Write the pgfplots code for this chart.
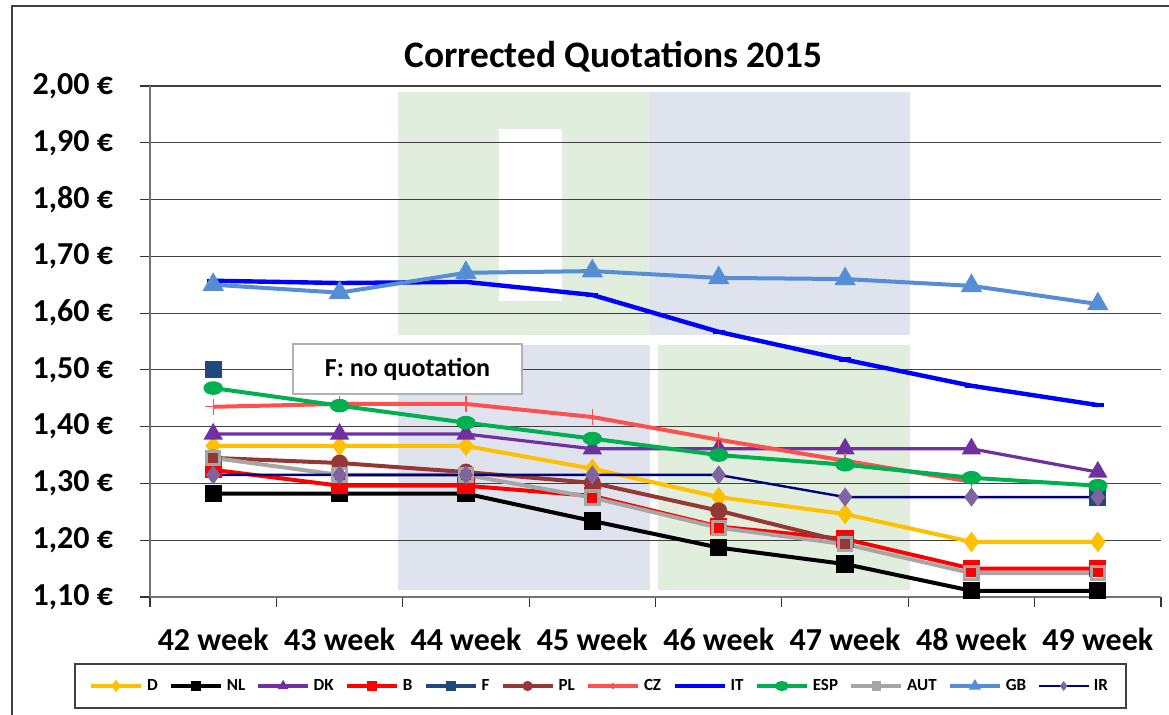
\documentclass[border=0pt]{standalone}
\usepackage{pgfplots}
\pgfplotsset{compat=1.18}
\usepackage{fontspec}
\setmainfont{Carlito}
\definecolor{cD}{HTML}{FFC000}
\definecolor{cNL}{HTML}{000000}
\definecolor{cDK}{HTML}{7030A0}
\definecolor{cB}{HTML}{FF0000}
\definecolor{cF}{HTML}{1F497D}
\definecolor{cPL}{HTML}{953735}
\definecolor{cCZ}{HTML}{FF5050}
\definecolor{cIT}{HTML}{0000FF}
\definecolor{cESP}{HTML}{00B050}
\definecolor{cAUT}{HTML}{A6A6A6}
\definecolor{cGB}{HTML}{558ED5}
\definecolor{cIR}{HTML}{000080}
\definecolor{cIRm}{HTML}{8064A2}
\definecolor{wmG}{HTML}{E2EEDD}
\definecolor{wmB}{HTML}{DEE3EE}
\begin{document}
\begin{tikzpicture}[x=0.5bp,y=0.5bp]
\useasboundingbox (0,0) rectangle (1169,714);
\fill[white] (0,0) rectangle (1169,714);
\draw[line width=0.8bp, black!75] (12,-20) rectangle (1190,708);
% watermark
\fill[wmG] (398,622) rectangle (650,379);
\fill[wmB] (650,622) rectangle (910,379);
\fill[wmB] (398,369) rectangle (650,124);
\fill[wmG] (658,369) rectangle (910,124);
\fill[white] (499,585) rectangle (562,413);
\node[font=\bfseries\fontsize{18.7bp}{22bp}\selectfont] at (613.5,657) {Corrected Quotations 2015};
\begin{axis}[
  at={(75bp,58.5bp)}, anchor=south west,
  width=505.5bp, height=255.5bp, scale only axis,
  xmin=-0.5, xmax=7.5, ymin=1.1, ymax=2.0,
  axis lines*=left,
  axis line style={black!55, line width=1bp},
  ytick={1.1,1.2,1.3,1.4,1.5,1.6,1.7,1.8,1.9,2.0},
  yticklabels={{1,10 €},{1,20 €},{1,30 €},{1,40 €},{1,50 €},{1,60 €},{1,70 €},{1,80 €},{1,90 €},{2,00 €}},
  ymajorgrids,
  grid style={black!75, line width=0.6bp},
  tick align=outside,
  major tick length=5bp,
  tick style={black!80, line width=0.6bp},
  xtick={-0.5,0.5,1.5,2.5,3.5,4.5,5.5,6.5,7.5},
  xticklabels={},
  extra x ticks={0,1,2,3,4,5,6,7},
  extra x tick labels={42 week,43 week,44 week,45 week,46 week,47 week,48 week,49 week},
  extra x tick style={major tick length=0pt, grid=none,
     xticklabel style={yshift=-12bp}},
  ticklabel style={font=\bfseries\fontsize{16bp}{18bp}\selectfont},
  yticklabel style={xshift=-10bp},
  unbounded coords=jump,
  every axis plot/.append style={line width=2bp, mark options={solid}},
  legend columns=12,
  legend style={at={(0.4456,-0.1742)}, anchor=center, draw=black!75, line width=0.6bp,
     font=\bfseries\fontsize{8.5bp}{9bp}\selectfont, inner xsep=7bp, inner ysep=5.5bp,
     cells={inner xsep=1bp},
     /tikz/every odd column/.append style={column sep=0bp},
     /tikz/every even column/.append style={column sep=3.6bp}},
  legend image code/.code={\draw[mark repeat=2,mark phase=2,#1,mark size=1.5bp] plot coordinates {(0bp,0bp)(12.5bp,0bp)(25bp,0bp)};},
]
\addplot[cD, mark=diamond*, mark size=3.5bp] coordinates {(0,1.366)(1,1.366)(2,1.366)(3,1.326)(4,1.276)(5,1.246)(6,1.197)(7,1.197)};
\addlegendentry{D}
\addplot[cNL, mark=square*, mark size=3.3bp] coordinates {(0,1.282)(1,1.282)(2,1.282)(3,1.234)(4,1.187)(5,1.158)(6,1.111)(7,1.111)};
\addlegendentry{NL}
\addplot[cDK, line width=1.6bp, mark=triangle*, mark size=4bp] coordinates {(0,1.387)(1,1.387)(2,1.387)(3,1.361)(4,1.361)(5,1.361)(6,1.361)(7,1.320)};
\addlegendentry{DK}
\addplot[cB, mark=square*, mark size=3.3bp] coordinates {(0,1.324)(1,1.296)(2,1.296)(3,1.278)(4,1.224)(5,1.202)(6,1.150)(7,1.150)};
\addlegendentry{B}
\addplot[cF, mark=square*, mark size=3.3bp] coordinates {(0,1.500)(1,nan)(2,nan)(3,nan)(4,nan)(5,nan)(6,nan)(7,1.276)};
\addlegendentry{F}
\addplot[cPL, mark=*, mark size=3.2bp] coordinates {(0,1.345)(1,1.336)(2,1.320)(3,1.301)(4,1.252)(5,1.197)};
\addlegendentry{PL}
\addplot[cCZ, mark=+, mark size=4bp, mark options={line width=0.6bp}] coordinates {(0,1.435)(1,1.440)(2,1.440)(3,1.417)(4,1.377)(5,1.340)(6,1.303)};
\addlegendentry{CZ}
\addplot[cIT, line width=2.2bp, mark=-, mark size=3bp] coordinates {(0,1.657)(1,1.653)(2,1.655)(3,1.632)(4,1.567)(5,1.518)(6,1.472)(7,1.438)};
\addlegendentry{IT}
\addplot[cESP, mark=*, mark size=2.4bp, mark options={xscale=1.6}] coordinates {(0,1.468)(1,1.437)(2,1.407)(3,1.379)(4,1.350)(5,1.333)(6,1.310)(7,1.296)};
\addlegendentry{ESP}
\addplot[cAUT, mark=square, mark size=3.3bp, mark options={line width=1.6bp}] coordinates {(0,1.345)(1,1.315)(2,1.315)(3,1.275)(4,1.222)(5,1.193)(6,1.142)(7,1.142)};
\addlegendentry{AUT}
\addplot[cGB, mark=triangle*, mark size=4.2bp] coordinates {(0,1.650)(1,1.636)(2,1.671)(3,1.674)(4,1.662)(5,1.660)(6,1.648)(7,1.616)};
\addlegendentry{GB}
\addplot[cIR, line width=1.2bp, mark=diamond*, mark size=3.8bp, mark options={draw=cIRm, fill=cIRm}] coordinates {(0,1.315)(1,1.315)(2,1.315)(3,1.315)(4,1.315)(5,1.276)(6,1.276)(7,1.276)};
\addlegendentry{IR}
\end{axis}
\node[draw=black!30, line width=0.8bp, fill=white, minimum width=114.5bp, minimum height=25bp, font=\bfseries\fontsize{13bp}{15bp}\selectfont] at (407.5,345) {F: no quotation};
\end{tikzpicture}
\end{document}
